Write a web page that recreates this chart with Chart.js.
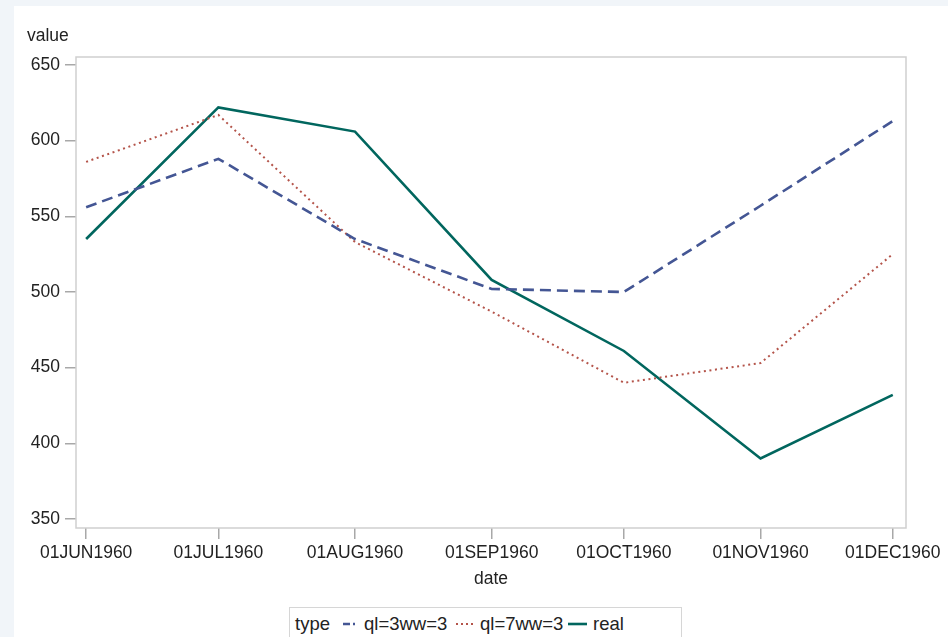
<!DOCTYPE html>
<html>
<head>
<meta charset="utf-8">
<script src="https://cdn.jsdelivr.net/npm/chart.js@4/dist/chart.umd.min.js"></script>
<style>
  html, body { margin: 0; padding: 0; }
  body { width: 948px; height: 637px; background: #f1f5f9; position: relative; overflow: hidden;
         font-family: "Liberation Sans", Arial, sans-serif; }
  #panel { position: absolute; left: 14px; top: 6px; right: 0; bottom: 0; background: #fff; }
  #chart { position: absolute; left: 0; top: 0; }
  #legend { position: absolute; left: 289px; top: 607px; width: 393px; height: 36px;
            border: 1px solid #d6d6d6; background: #fff; box-sizing: border-box;
            font-size: 18.5px; color: #222; white-space: nowrap; }
  #legend > * { position: absolute; top: 16px; transform: translateY(-50%); line-height: 1; }
  #legend svg { display: block; }
</style>
</head>
<body>
<div id="panel"></div>
<canvas id="chart" width="948" height="637"></canvas>
<div id="legend"></div>
<script>
// Monthly observations, June to December 1960
const dates = ['1960-06-01', '1960-07-01', '1960-08-01', '1960-09-01', '1960-10-01', '1960-11-01', '1960-12-01'];
const tickLabels = ['01JUN1960', '01JUL1960', '01AUG1960', '01SEP1960', '01OCT1960', '01NOV1960', '01DEC1960'];
const ql3ww3 = [556, 588, 535, 502, 500, 557, 613];
const ql7ww3 = [586, 617, 533, 487, 440, 453, 525];
const real = [535, 622, 606, 508, 461, 390, 432];
const yTicks = [350, 400, 450, 500, 550, 600, 650];
const seriesNames = ['ql=3ww=3', 'ql=7ww=3', 'real'];

const DAY = 86400000;
const t0 = Date.parse(dates[0]);
const dayOffsets = dates.map(d => Math.round((Date.parse(d) - t0) / DAY));
const toPoints = vals => vals.map((v, i) => ({ x: dayOffsets[i], y: v }));

const styles = [
  { color: '#445694', dash: [11, 6], width: 2.6 },
  { color: '#b4544a', dash: [2, 3.6], width: 2 },
  { color: '#01665E', dash: [], width: 2.6 }
];

const FONT = '"Liberation Sans", Arial, sans-serif';
const TEXT = '#222';
const FRAME = '#cfcfcf';
const TICK = '#a8a8a8';

// frame around the plot area plus the two axis titles
const decorations = {
  id: 'decorations',
  beforeDatasetsDraw(chart) {
    const { ctx, chartArea: a } = chart;
    ctx.save();
    ctx.strokeStyle = FRAME;
    ctx.lineWidth = 1.5;
    ctx.strokeRect(a.left, a.top, a.right - a.left, a.bottom - a.top);
    ctx.restore();
  },
  afterDraw(chart) {
    const { ctx, chartArea: a } = chart;
    ctx.save();
    ctx.fillStyle = TEXT;
    ctx.font = '17.5px ' + FONT;
    ctx.textBaseline = 'middle';
    ctx.textAlign = 'left';
    ctx.fillText('value', 27, 36);
    ctx.textAlign = 'center';
    ctx.fillText('date', (a.left + a.right) / 2, 579);
    ctx.restore();
  }
};

const datasets = [ql3ww3, ql7ww3, real].map((vals, i) => ({
  label: seriesNames[i],
  data: toPoints(vals),
  borderColor: styles[i].color,
  borderWidth: styles[i].width,
  borderDash: styles[i].dash,
  borderCapStyle: 'butt',
  pointRadius: 0,
  tension: 0,
  fill: false
}));

new Chart(document.getElementById('chart'), {
  type: 'line',
  data: { datasets },
  plugins: [decorations],
  options: {
    responsive: false,
    animation: false,
    layout: { padding: { left: 14, top: 57, right: 42, bottom: 71 } },
    plugins: { legend: { display: false }, tooltip: { enabled: false } },
    scales: {
      x: {
        type: 'linear',
        min: -2.3,
        max: 186,
        afterBuildTicks: s => { s.ticks = dayOffsets.map(v => ({ value: v })); },
        afterFit: s => { s.height = 38; },
        border: { display: false },
        grid: { drawOnChartArea: false, drawTicks: true, tickLength: 11, tickColor: TICK, lineWidth: 1.5 },
        ticks: {
          autoSkip: false, maxRotation: 0, padding: 4, color: TEXT,
          font: { family: FONT, size: 17.5 },
          callback: (v) => tickLabels[dayOffsets.indexOf(v)]
        }
      },
      y: {
        type: 'linear',
        min: 344,
        max: 655.3,
        afterBuildTicks: s => { s.ticks = yTicks.map(v => ({ value: v })); },
        afterFit: s => { s.width = 62; },
        border: { display: false },
        grid: { drawOnChartArea: false, drawTicks: true, tickLength: 11, tickColor: TICK, lineWidth: 1.5 },
        ticks: { padding: 5, color: TEXT, font: { family: FONT, size: 17.5 } }
      }
    }
  }
});

// legend strip below the plot: title, then a line sample and a name per series
const legend = document.getElementById('legend');
const place = (el, left) => { el.style.left = left + 'px'; legend.appendChild(el); return el; };
const head = document.createElement('span');
head.textContent = 'type';
place(head, 5);
const sampleLeft = [53, 166, 278];
const sampleWidth = [12, 17, 19];
const labelLeft = [74, 190, 303];
const sampleDash = ['7 3 2 20', '2 3', ''];
seriesNames.forEach((name, i) => {
  const st = styles[i];
  const w = sampleWidth[i];
  const wrap = document.createElement('span');
  wrap.innerHTML =
    '<svg width="' + w + '" height="10"><line x1="0" y1="5" x2="' + w + '" y2="5" stroke="' + st.color +
    '" stroke-width="' + (i === 1 ? 2 : 2.6) + '"' + (sampleDash[i] ? ' stroke-dasharray="' + sampleDash[i] + '"' : '') + '/></svg>';
  place(wrap, sampleLeft[i]);
  const label = document.createElement('span');
  label.textContent = name;
  place(label, labelLeft[i]);
});
</script>
</body>
</html>
